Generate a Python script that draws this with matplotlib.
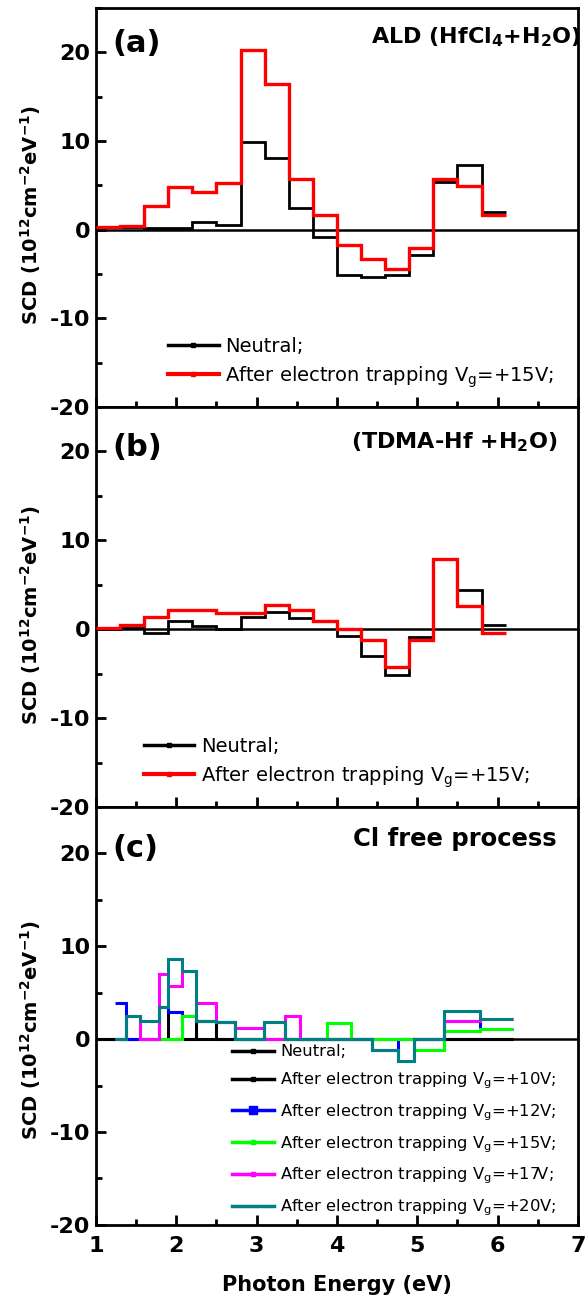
import numpy as np
import matplotlib
matplotlib.use("Agg")
import matplotlib.pyplot as plt
from matplotlib.lines import Line2D
from matplotlib.ticker import MultipleLocator

plt.rcParams['font.family'] = ['DejaVu Sans']
plt.rcParams['axes.unicode_minus'] = False
plt.rcParams['mathtext.default'] = 'regular'

# Panel (a) and (b): bin edges in photon energy (eV)
edges_ab = [1.0, 1.3, 1.6, 1.9, 2.2, 2.5, 2.8, 3.1, 3.4, 3.7, 4.0, 4.3, 4.6, 4.9, 5.2, 5.5, 5.8, 6.1]

# (a) ALD (HfCl4 + H2O)
a_neutral = [0.26, 0.3, 0.2, 0.2, 0.9, 0.56, 9.85, 8.1, 2.5, -0.86, -5.06, -5.3, -5.06, -2.8, 5.4, 7.3, 2.0]
a_trap15 = [0.26, 0.37, 2.7, 4.76, 4.2, 5.3, 20.3, 16.4, 5.7, 1.7, -1.7, -3.3, -4.4, -2.06, 5.7, 4.9, 1.7]

# (b) TDMA-Hf + H2O
b_neutral = [0.0, 0.1, -0.45, 0.94, 0.37, 0.0, 1.4, 1.9, 1.3, 0.94, -0.8, -3.0, -5.2, -0.86, 7.9, 4.4, 0.45]
b_trap15 = [0.1, 0.5, 1.4, 2.2, 2.2, 1.8, 1.8, 2.7, 2.2, 0.94, 0.07, -1.24, -4.3, -1.24, 7.9, 2.6, -0.37]

# (c) Cl free process
edges_c = [1.0, 1.24, 1.37, 1.55, 1.78, 1.90, 2.07, 2.24, 2.49, 2.73, 3.09,
           3.35, 3.54, 3.88, 4.18, 4.44, 4.76, 4.96, 5.33, 5.78, 6.19]
c_neutral = [0.0] * 20
c_trap10 = [0, 0, 0, 0, 0, 2.97, 0, 1.94, 0, 0, 0, 0, 0, 0, 0, 0, 0, 0, 0, 0]
c_trap12 = [3.84, 0, 0, 3.48, 2.97, 2.5, 1.94, 1.8, 0, 1.86, 0, 0, 0, 0, -1.18, 0, 0, 1.97, 1.04]
c_trap15 = [0, 0, 2.5, 1.94, 1.8, 0, 0, 0, 0, 1.79, 0, 0, 0, -1.18, 0.9, 1.04]
c_trap17 = [0, 2.5, 0, 7.06, 5.73, 7.3, 3.94, 1.86, 1.25, 0, 2.47, 0, 0, 0, -1.18, -2.37, 0, 1.97, 2.2]
c_trap20 = [0, 2.5, 1.94, 3.48, 8.6, 7.3, 1.94, 1.8, 0, 1.86, 0, 0, 0, 0, -1.18, -2.37, 0, 3.05, 2.22]

ylabel = r'SCD (10$^{12}$cm$^{-2}$eV$^{-1}$)'
trap = 'After electron trapping V$_g$='


def style_axis(ax, show_xlabels, label_y):
    ax.set_xlim(1, 7)
    ax.set_ylim(-20, 25)
    ax.xaxis.set_major_locator(MultipleLocator(1))
    ax.xaxis.set_minor_locator(MultipleLocator(0.5))
    ax.yaxis.set_minor_locator(MultipleLocator(5))
    ax.set_yticks([-20, -10, 0, 10, 20])
    ax.tick_params(which='both', direction='in', top=False, right=False, width=2)
    ax.tick_params(which='major', length=7)
    ax.tick_params(which='minor', length=4)
    ax.tick_params(axis='y', labelsize=16, pad=4)
    ax.tick_params(axis='x', labelsize=16, pad=8, labelbottom=show_xlabels)
    for lab in ax.get_xticklabels() + ax.get_yticklabels():
        lab.set_fontweight('bold')
    for s in ax.spines.values():
        s.set_linewidth(2)
    ax.axhline(0, color='black', lw=1.8, zorder=1)
    ax.set_ylabel(ylabel, fontsize=14, fontweight='bold')
    ax.yaxis.set_label_coords(-0.109, label_y)


fig = plt.figure(figsize=(5.86, 12.95), dpi=100)
ax_a = fig.add_axes([0.1638, 0.6857, 0.8225, 0.3081])
ax_b = fig.add_axes([0.1638, 0.3768, 0.8225, 0.3089])
ax_c = fig.add_axes([0.1638, 0.0541, 0.8225, 0.3228])

# Panel (a)
ax_a.stairs(a_neutral, edges_ab, baseline=None, color='black', lw=2.0, zorder=3)
ax_a.stairs(a_trap15, edges_ab, baseline=None, color='#ff0000', lw=2.4, zorder=4)
style_axis(ax_a, False, 0.48)
ax_a.text(0.035, 0.912, '(a)', transform=ax_a.transAxes, fontsize=22, fontweight='bold', va='center')
ax_a.text(1.005, 0.927, r'ALD (HfCl$_4$+H$_2$O)', transform=ax_a.transAxes, fontsize=16,
          fontweight='bold', va='center', ha='right')
h_ab = [Line2D([], [], color='black', lw=2.5, marker='s', ms=3),
        Line2D([], [], color='#ff0000', lw=3, marker='s', ms=3)]
ax_a.legend(h_ab, ['Neutral;', trap + '+15V;'], loc='lower left', bbox_to_anchor=(0.113, 0.0),
            frameon=False, fontsize=14, handlelength=2.6, handletextpad=0.35, labelspacing=0.4)

# Panel (b)
ax_b.stairs(b_neutral, edges_ab, baseline=None, color='black', lw=2.0, zorder=3)
ax_b.stairs(b_trap15, edges_ab, baseline=None, color='#ff0000', lw=2.4, zorder=4)
style_axis(ax_b, False, 0.48)
ax_b.text(0.035, 0.90, '(b)', transform=ax_b.transAxes, fontsize=22, fontweight='bold', va='center')
ax_b.text(0.958, 0.912, r'(TDMA-Hf +H$_2$O)', transform=ax_b.transAxes, fontsize=16,
          fontweight='bold', va='center', ha='right')
ax_b.legend(h_ab, ['Neutral;', trap + '+15V;'], loc='lower left', bbox_to_anchor=(0.063, 0.0),
            frameon=False, fontsize=14, handlelength=2.6, handletextpad=0.35, labelspacing=0.4)

# Panel (c)
ax_c.stairs(c_neutral, edges_c, baseline=None, color='black', lw=2.2, zorder=2)
ax_c.stairs(c_trap10, edges_c, baseline=None, color='black', lw=2.2, zorder=3)
ax_c.stairs(c_trap12, edges_c[1:], baseline=None, color='#0000ff', lw=2.2, zorder=4)
ax_c.stairs(c_trap15, edges_c[4:], baseline=None, color='#00ff00', lw=2.2, zorder=5)
ax_c.stairs(c_trap17, edges_c[1:], baseline=None, color='#ff00ff', lw=2.2, zorder=6)
ax_c.stairs(c_trap20, edges_c[1:], baseline=None, color='#008080', lw=2.2, zorder=7)
style_axis(ax_c, True, 0.466)
ax_c.set_xlabel('Photon Energy (eV)', fontsize=15, fontweight='bold', labelpad=14)
ax_c.text(0.035, 0.90, '(c)', transform=ax_c.transAxes, fontsize=22, fontweight='bold', va='center')
ax_c.text(0.956, 0.923, 'Cl free process', transform=ax_c.transAxes, fontsize=17.5,
          fontweight='bold', va='center', ha='right')
h_c = [Line2D([], [], color='black', lw=2.5, marker='s', ms=3),
       Line2D([], [], color='black', lw=2.5, marker='s', ms=3),
       Line2D([], [], color='#0000ff', lw=2.5, marker='s', ms=6),
       Line2D([], [], color='#00ff00', lw=2.5, marker='s', ms=3),
       Line2D([], [], color='#ff00ff', lw=2.5, marker='s', ms=3),
       Line2D([], [], color='#008080', lw=2.5)]
labels_c = ['Neutral;', trap + '+10V;', trap + '+12V;', trap + '+15V;', trap + '+17V;', trap + '+20V;']
ax_c.legend(h_c, labels_c, loc='lower left', bbox_to_anchor=(0.251, -0.019), frameon=False,
            fontsize=11.8, handlelength=2.6, handletextpad=0.35, labelspacing=0.68)

fig.savefig('out.png', dpi=100)
